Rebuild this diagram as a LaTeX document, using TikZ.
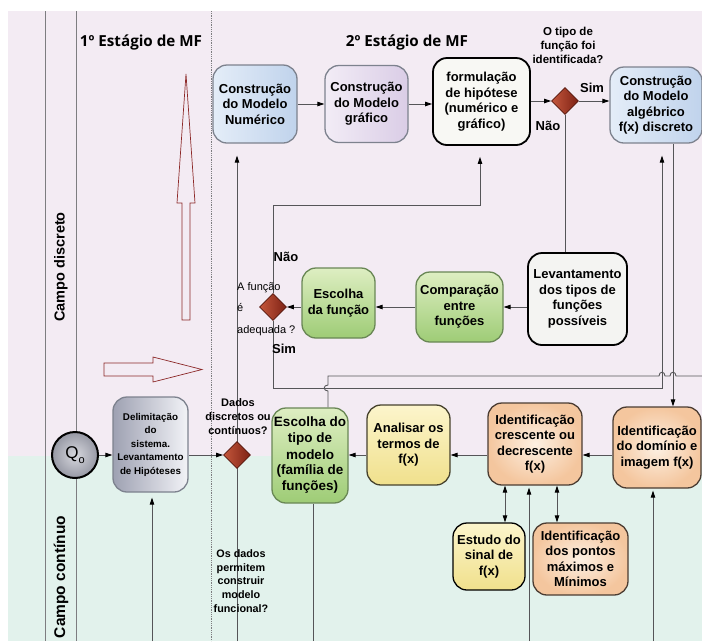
\documentclass[tikz,border=0pt]{standalone}
\usepackage{fontspec}
\setmainfont{Liberation Sans}
\newfontfamily\headfont{Open Sans}
\usetikzlibrary{shapes.geometric,arrows.meta}
\pgfdeclarelayer{bg}
\pgfsetlayers{bg,main}
\definecolor{bgpink}{RGB}{243,235,243}
\definecolor{bgmint}{RGB}{226,242,236}
\definecolor{lanegray}{RGB}{125,125,128}
\definecolor{linegray}{RGB}{85,85,88}
\definecolor{darkred}{RGB}{140,40,40}
\definecolor{numA}{RGB}{228,237,248}
\definecolor{numB}{RGB}{192,211,236}
\definecolor{grafA}{RGB}{242,236,246}
\definecolor{grafB}{RGB}{218,205,230}
\definecolor{formF}{RGB}{248,248,244}
\definecolor{levF}{RGB}{244,244,242}
\definecolor{greenA}{RGB}{222,238,194}
\definecolor{greenB}{RGB}{158,204,118}
\definecolor{yelA}{RGB}{252,245,204}
\definecolor{yelB}{RGB}{240,224,140}
\definecolor{peachA}{RGB}{253,240,226}
\definecolor{peachB}{RGB}{244,198,158}
\definecolor{delA}{RGB}{242,243,247}
\definecolor{delB}{RGB}{158,161,178}
\definecolor{qA}{RGB}{215,216,222}
\definecolor{qB}{RGB}{150,152,164}
\definecolor{dmA}{RGB}{196,86,60}
\definecolor{dmB}{RGB}{125,34,20}
\definecolor{dmD}{RGB}{85,22,12}
\definecolor{blueBorder}{RGB}{125,130,142}
\definecolor{greenBorder}{RGB}{105,135,85}
\definecolor{yelBorder}{RGB}{70,66,45}
\definecolor{peachBorder}{RGB}{75,60,50}
\tikzset{
  box/.style={rectangle, rounded corners=14pt, align=center, inner sep=1pt,
    line width=1.3pt, font=\fontsize{13}{15.5}\selectfont\bfseries},
  bluebox/.style={box, draw=blueBorder, left color=numA, right color=numB},
  lavbox/.style={box, draw=blueBorder, left color=grafA, right color=grafB},
  whitebox/.style={box, draw=black, fill=formF, line width=1.8pt},
  greenbox/.style={box, draw=greenBorder, top color=greenA, bottom color=greenB},
  yelbox/.style={box, draw=yelBorder, top color=yelA, bottom color=yelB},
  peachbox/.style={box, draw=peachBorder, inner color=peachA, outer color=peachB},
  gate/.style={diamond, minimum size=27pt, inner sep=0pt, draw=dmD, line width=0.8pt,
    left color=dmA, right color=dmB},
  lbl/.style={align=center, inner sep=0pt, font=\fontsize{11}{14}\selectfont\bfseries},
  yn/.style={inner sep=0pt, font=\fontsize{13}{15}\selectfont\bfseries},
  conn/.style={draw=linegray, line width=0.9pt},
  arr/.style={conn, -{Triangle[length=7pt,width=4.5pt,color=black]}},
  darr/.style={conn, {Triangle[length=7pt,width=4.5pt,color=black]}-{Triangle[length=7pt,width=4.5pt,color=black]}},
  bigarrow/.style={draw=darkred, line width=0.7pt, line join=miter},
}
\begin{document}
\begin{tikzpicture}[x=1pt,y=-1pt]
\useasboundingbox (0,0) rectangle (702,641);
\begin{pgfonlayer}{bg}
\fill[white] (0,0) rectangle (702,641);
\fill[bgpink] (8,11) rectangle (702,456);
\fill[bgmint] (8,456) rectangle (702,641);
\draw[lanegray, line width=1pt] (45,11) -- (45,641);
\draw[lanegray, line width=1pt] (76,11) -- (76,641);
\draw[lanegray, densely dotted, line width=0.8pt] (211,11) -- (211,641);
% big hollow arrows
\draw[bigarrow] (182,320) -- (182,203) -- (177,203) -- (186,74) -- (195,203) -- (190,203) -- (190,320) -- cycle;
\draw[bigarrow] (104,363) -- (153,363) -- (153,357) -- (202,369.5) -- (153,382) -- (153,376) -- (104,376) -- cycle;
\end{pgfonlayer}

% headers and lane labels
\node[inner sep=0pt, font=\headfont\fontsize{15.2}{17}\selectfont\bfseries] (h1) at (141,42) {1º Estágio de MF};
\node[inner sep=0pt, font=\headfont\fontsize{15.2}{17}\selectfont\bfseries] (h2) at (407,42) {2º Estágio de MF};
\node[rotate=90, inner sep=0pt, font=\fontsize{14.5}{16}\selectfont\bfseries] (l1) at (61,267) {Campo discreto};
\node[rotate=90, inner sep=0pt, font=\fontsize{15.5}{17}\selectfont\bfseries] (l2) at (61,577) {Campo contínuo};

% row 1
\node[bluebox, minimum width=84pt, minimum height=78pt] (num) at (255,104) {Construção\\do Modelo\\Numérico};
\node[lavbox, minimum width=83pt, minimum height=77pt] (graf) at (366.5,104) {Construção\\do Modelo\\gráfico};
\node[whitebox, minimum width=97pt, minimum height=87pt] (form) at (481.5,101.5) {formulação\\de hipótese\\(numérico e\\gráfico)};
\node[gate] (d2) at (565,101) {};
\node[bluebox, minimum width=92pt, minimum height=76pt] (alg) at (656,105) {Construção\\do Modelo\\algébrico\\f(x) discreto};
\node[lbl, font=\fontsize{11.5}{14}\selectfont\bfseries] (q2) at (568,45) {O tipo de\\função foi\\identificada?};
\node[yn] (sim2) at (592,88) {Sim};
\node[yn] (nao2) at (548,126) {Não};

% row 2
\node[whitebox, fill=levF, minimum width=99pt, minimum height=92pt] (lev) at (577.5,299) {Levantamento\\dos tipos de\\funções\\possíveis};
\node[greenbox, minimum width=87pt, minimum height=70pt] (comp) at (459.5,307) {Comparação\\entre\\funções};
\node[greenbox, minimum width=73pt, minimum height=70pt] (esc) at (338.5,303) {Escolha\\da função};
\node[gate] (d3) at (273,307) {};
\node[anchor=west, align=left, inner sep=0pt, font=\fontsize{11}{21.5}\selectfont] (q3) at (237,309) {A função\\é\\adequada ?};
\node[yn] (nao3) at (286,257) {Não};
\node[yn] (sim3) at (284,349) {Sim};

% row 3
\node[circle, minimum size=46pt, inner sep=0pt, draw=black, line width=2pt, inner color=qA, outer color=qB] (q0) at (75,455) {\fontsize{17}{17}\selectfont Q\raisebox{-0.55ex}{\fontsize{11}{11}\selectfont o}};
\node[box, draw=blueBorder, left color=delB, right color=delA, minimum width=75pt, minimum height=95pt, font=\fontsize{9.8}{13.5}\selectfont\bfseries] (del) at (150.5,444.5) {Delimitação\\do\\sistema.\\Levantamento\\de Hipóteses};
\node[gate] (d1) at (237,455) {};
\node[lbl] (q1) at (238,417) {Dados\\discretos ou\\contínuos?};
\node[lbl, font=\fontsize{10.8}{13.7}\selectfont\bfseries] (q4) at (241,581) {Os dados\\permitem\\construir\\modelo\\funcional?};
\node[greenbox, minimum width=76pt, minimum height=95pt, font=\fontsize{13.5}{16}\selectfont\bfseries] (tipo) at (310,455.5) {Escolha do\\tipo de\\modelo\\(família de\\funções)};
\node[yelbox, minimum width=83pt, minimum height=80pt] (anal) at (408.5,445) {Analisar os\\termos de\\f(x)};
\node[peachbox, minimum width=94pt, minimum height=82pt] (cres) at (535,444) {Identificação\\crescente ou\\decrescente\\f(x)};
\node[peachbox, minimum width=88pt, minimum height=81pt] (dom) at (657,447.5) {Identificação\\do domínio e\\imagem f(x)};
\node[yelbox, draw=black, minimum width=72pt, minimum height=67pt] (est) at (489,556.5) {Estudo do\\sinal de\\f(x)};
\node[peachbox, minimum width=95pt, minimum height=72pt] (pts) at (580.5,559) {Identificação\\dos pontos\\máximos e\\Mínimos};

% free-end coordinates
\coordinate (c1) at (480,205);
\coordinate (c2) at (662,388);
\coordinate (c3) at (673,0);
\coordinate (c4) at (328,391);
\coordinate (e1) at (702,376);
\coordinate (b1) at (152,641);
\coordinate (b2) at (237,641);
\coordinate (b3) at (529,641);
\coordinate (b4) at (653,641);
\coordinate (b5) at (313,641);
\coordinate (v1) at (505,0);
\coordinate (v2) at (557,0);

\begin{pgfonlayer}{bg}
% row 1
\draw[arr] (num) -- (graf);
\draw[arr] (graf.east) -- (graf.east -| form.west);
\draw[arr] (form.east |- d2) -- (d2);
\draw[arr] (d2) -- (d2 -| alg.west);
\draw[conn] (d2.south) -- (d2.south |- lev.north);
% row 2
\draw[arr] (lev.west |- d3) -- (comp.east |- d3);
\draw[arr] (comp.west |- d3) -- (esc.east |- d3);
\draw[arr] (esc.west |- d3) -- (d3);
\draw[arr, shorten >=11pt] (d3.north) |- (c1) -- (c1 |- form.south);
\draw[arr, shorten >=12pt] (d3.south) |- (c2) -- (c2 |- alg.south);
\draw[arr] (c3 |- alg.south) -- (c3 |- dom.north);
\draw[conn] (e1) -- (676,376) .. controls (676,371) and (670,371) .. (670,376)
  -- (665,376) .. controls (665,371) and (659,371) .. (659,376)
  -- (328,376) -- (328,385) .. controls (323,385) and (323,391) .. (328,391)
  -- (c4 |- tipo.north);
% row 3
\draw[arr] (q0.east) -- (q0.east -| del.west);
\draw[arr] (del.east |- d1) -- (d1);
\draw[arr] (anal.west |- d1) -- (tipo.east |- d1);
\draw[arr] (cres.west |- d1) -- (anal.east |- d1);
\draw[arr] (dom.west |- d1) -- (cres.east |- d1);
\draw[conn] (b5 |- tipo.south) -- (b5);
\draw[arr, shorten >=5pt] (b1) -- (b1 |- del.south);
\draw[arr, shorten >=12pt] (b2) -- (b2 |- num.south);
\draw[arr, shorten >=2pt] (b3) -- (b3 |- cres.south);
\draw[arr, shorten >=2pt] (b4) -- (b4 |- dom.south);
\draw[darr] (v1 |- cres.south) -- (v1 |- est.north);
\draw[darr] (v2 |- cres.south) -- (v2 |- pts.north);
\end{pgfonlayer}
\end{tikzpicture}
\end{document}
